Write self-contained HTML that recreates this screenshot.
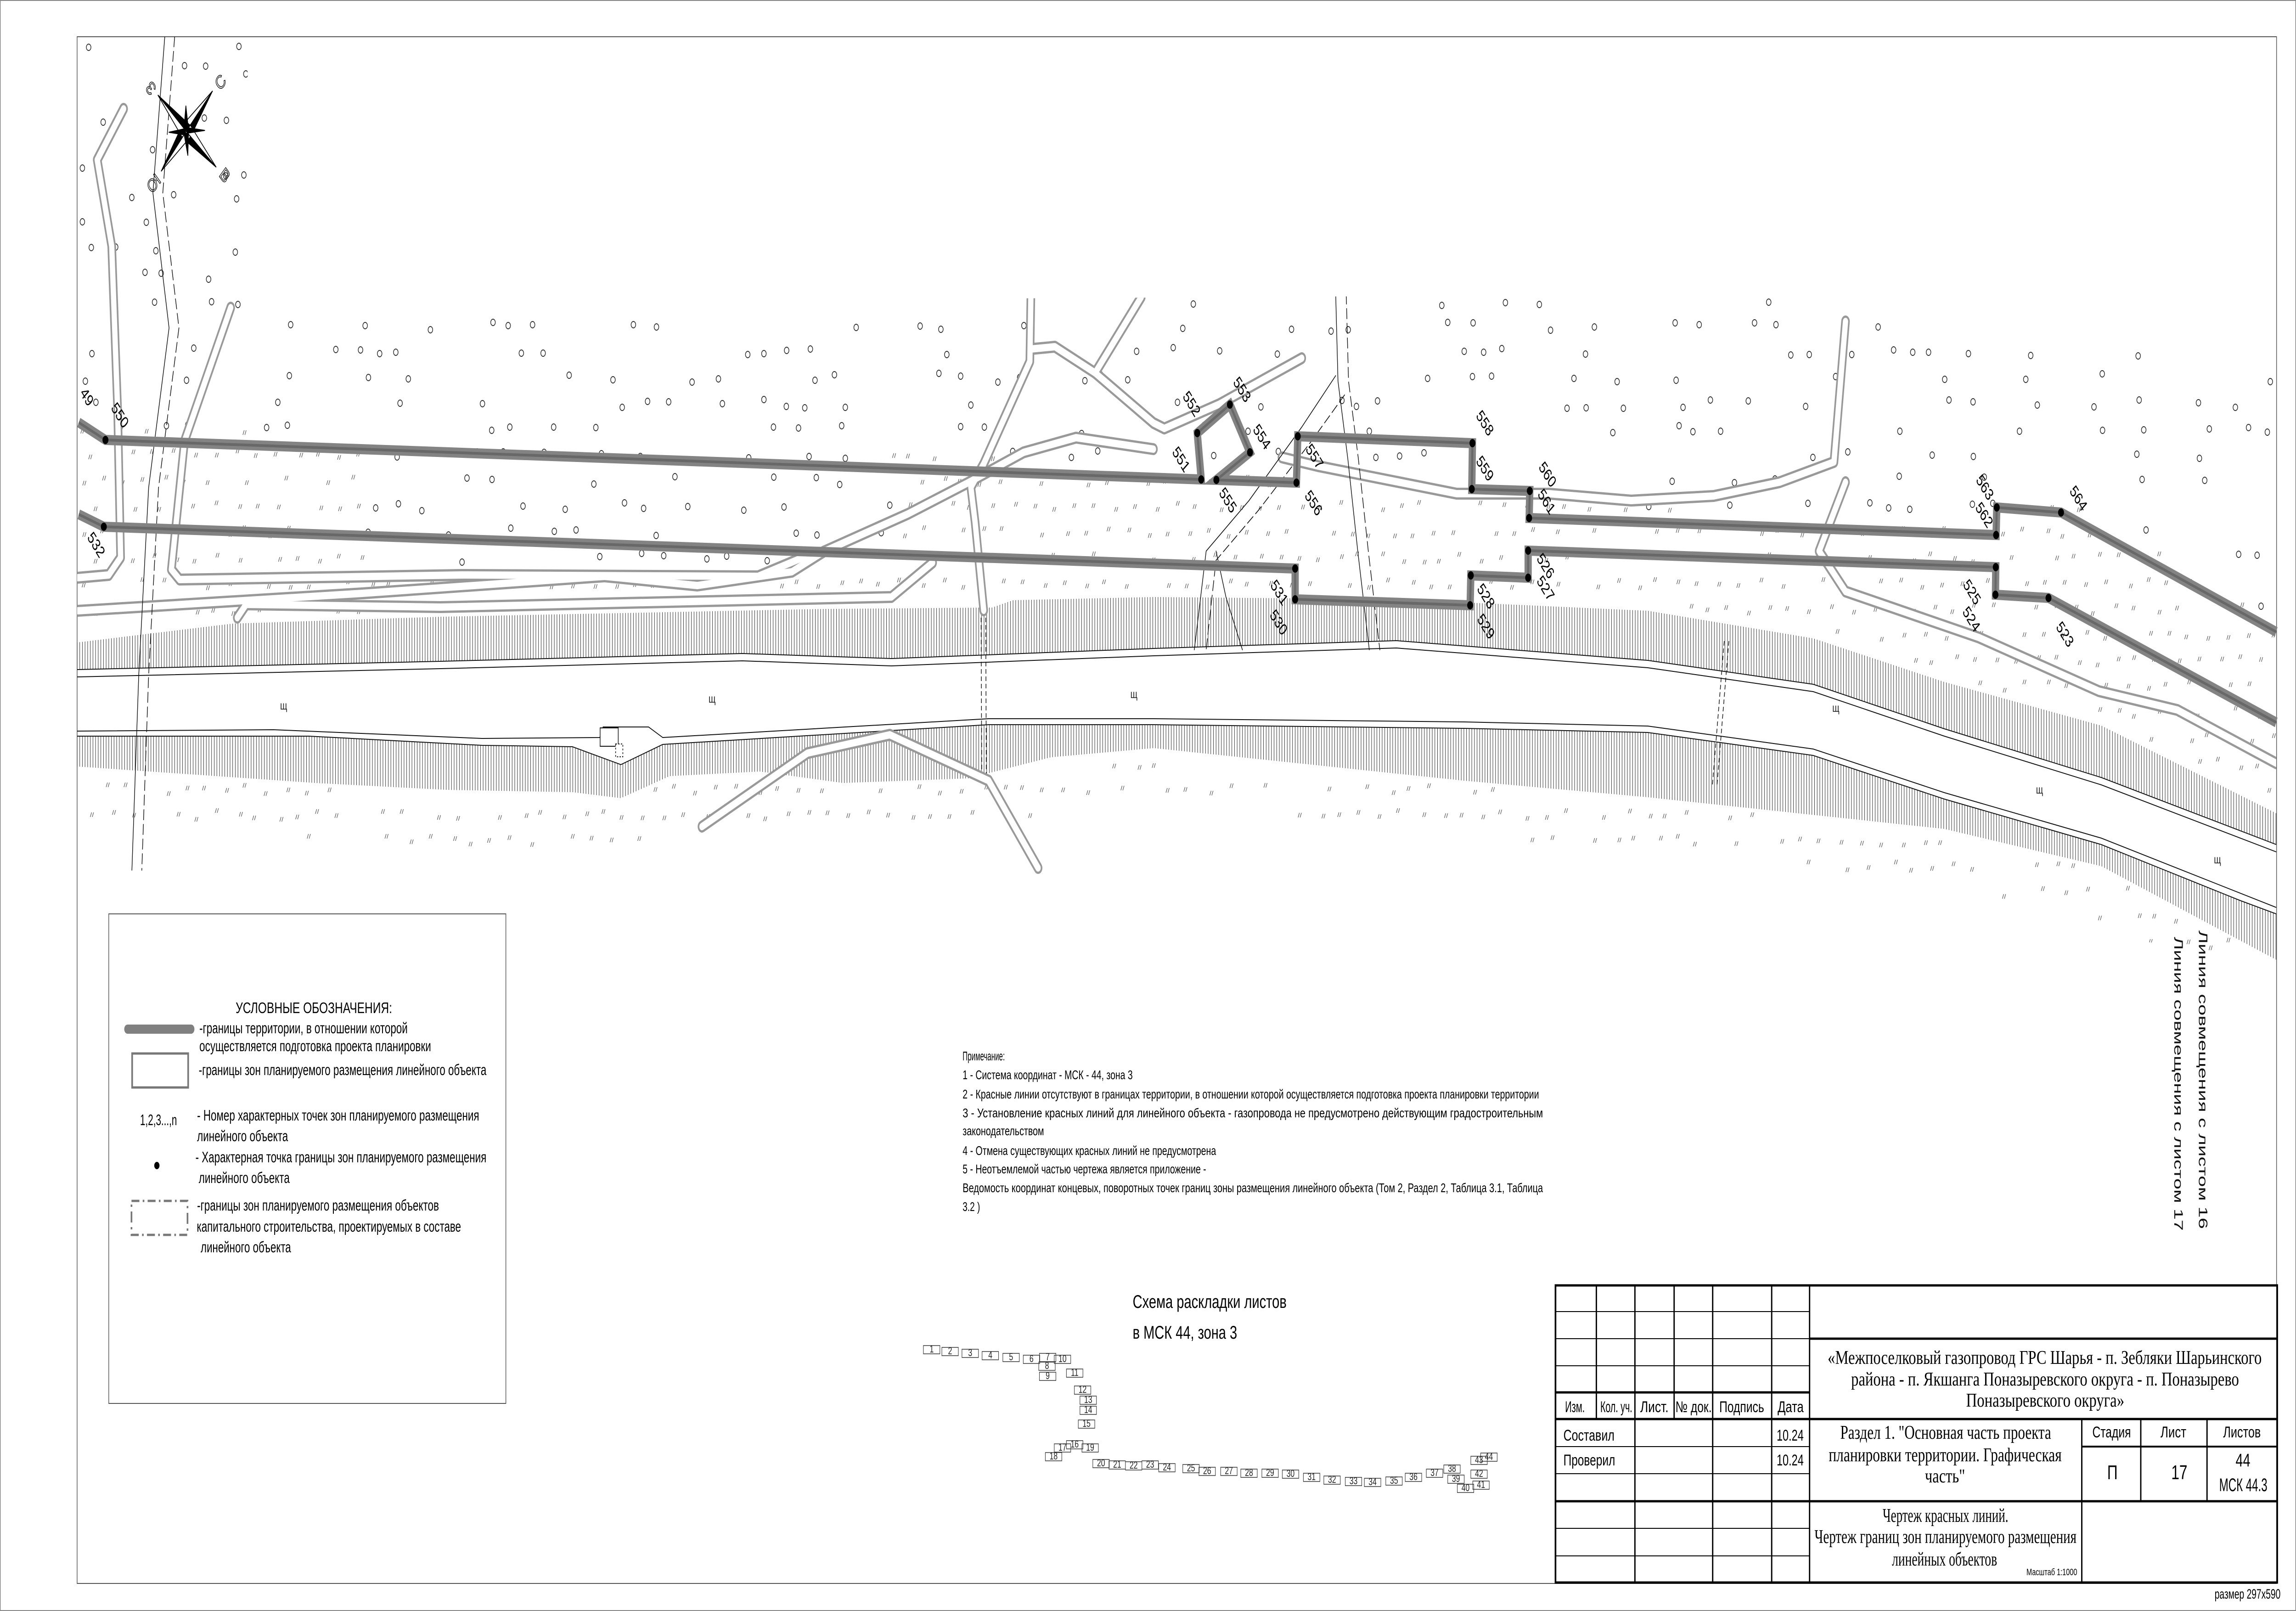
<!DOCTYPE html>
<html><head><meta charset="utf-8"><style>
html,body{margin:0;padding:0;background:#fff;width:100%;height:100%;overflow:hidden}
svg{display:block;position:absolute;left:0;top:0;width:100vw;height:100vh}
.s{font-family:"Liberation Sans",sans-serif}
.r{font-family:"Liberation Serif",serif}
</style></head><body>
<svg id="sv" viewBox="0 0 6967 3508" preserveAspectRatio="none" xmlns="http://www.w3.org/2000/svg">
<defs>
<pattern id="hv" width="8" height="40" patternUnits="userSpaceOnUse"><line x1="2" y1="0" x2="2" y2="40" stroke="#222" stroke-width="1.3"/></pattern>
<clipPath id="mc"><polygon points="234,80 750,80 760,662 3000,650 5400,640 6907,765 6907,2090 6000,2000 3000,1905 234,1895"/></clipPath>
</defs>
<rect x="1" y="1" width="6965" height="3506" fill="#fff" stroke="#888" stroke-width="2"/>
<rect x="234" y="80" width="6674" height="3368" fill="none" stroke="#555" stroke-width="2"/>

<g clip-path="url(#mc)">
 <g id="marks"></g>
 <polygon fill="url(#hv)" points="234,1399 705,1358 1337,1343 2500,1326 3010,1323 3074,1307 3501,1300 4237,1305 5000,1330 5502,1390 5900,1485 6376,1580 6907,1771 6907,1839 6376,1693 5900,1587 5502,1490 5000,1438 4237,1395 3501,1412 2705,1434 2253,1423 1337,1440 234,1458"/>
 <polyline fill="none" stroke="#111" stroke-width="2" points="234,1458 1337,1440 2253,1423 2705,1434 3501,1412 4237,1395 5000,1438 5502,1490 5900,1587 6376,1693 6907,1839"/>
 <polyline fill="none" stroke="#111" stroke-width="2" points="234,1474 1337,1456 2253,1439 2705,1450 3501,1428 4237,1411 5000,1454 5502,1506 5900,1603 6376,1709 6907,1855"/>
 <polygon fill="url(#hv)" points="234,1603 937,1603 1463,1623 1737,1626 1884,1665 2011,1621 3000,1578 3501,1578 4443,1586 5000,1595 5502,1645 5900,1740 6376,1839 6798,1961 6907,1990 6907,2090 6376,1886 5900,1805 5000,1736 4443,1700 3501,1629 3189,1649 2937,1695 2558,1705 2305,1680 2032,1690 1884,1738 1737,1725 1358,1720 958,1705 234,1669"/>
 <polyline fill="none" stroke="#111" stroke-width="2" points="234,1603 937,1603 1463,1623 1737,1626 1884,1665 2011,1621 3000,1578 3501,1578 4443,1586 5000,1595 5502,1645 5900,1740 6376,1839 6798,1961 6907,1990"/>
 <polyline fill="none" stroke="#111" stroke-width="2" points="234,1592 830,1589 1463,1608 1820,1606 1830,1583 1968,1583 2011,1606 3000,1565 3501,1565 4443,1572 5000,1581 5502,1631 5900,1726 6376,1825 6907,1976"/>
 <rect x="1821" y="1585" width="55" height="40" fill="#fff" stroke="#111" stroke-width="2"/>
 <rect x="1868" y="1620" width="22" height="28" fill="#fff" stroke="#111" stroke-width="2" stroke-dasharray="4 4"/>
 <g stroke="#111" stroke-width="2" stroke-dasharray="10 6"><line x1="2977" y1="1345" x2="2979" y2="1690"/><line x1="2991" y1="1345" x2="2993" y2="1690"/><line x1="5232" y1="1396" x2="5196" y2="1711"/><line x1="5246" y1="1396" x2="5210" y2="1711"/></g>
 <g fill="none" stroke-linejoin="round" stroke-linecap="round">
  <g stroke="#999" stroke-width="26">
   <polyline points="375,237 295,348 339,536 357,893 366,1214 330,1252 236,1258"/>
   <polyline points="700,670 560,960 520,1240 545,1262 1400,1252 2300,1255 2450,1210"/>
   <polyline points="720,1345 747,1316 1337,1322 2705,1300 2830,1225"/>
   <polyline points="236,1330 1100,1292 1835,1255 2116,1275 2403,1245 2500,1201 2755,1119 2946,1048 3106,985 3265,953 3500,978"/>
   <polyline points="3128,650 3125,787 2985,1010 2946,1061 2959,1138 2985,1329"/>
   <polyline points="3128,760 3201,755 3323,812 3500,921 3533,933 3700,880 3950,780"/>
   <polyline points="3323,812 3463,647"/>
   <polyline points="3890,996 4000,1015 4420,1075 4700,1075 4950,1090 5200,1080 5400,1050 5565,1006 5600,700"/>
   <polyline points="5600,1050 5520,1200 5600,1288 6004,1388 6369,1505 6607,1546 6907,1662"/>
   <polyline points="2130,1800 2450,1640 2700,1600 3000,1700 3150,1890"/>
  </g>
  <g stroke="#fff" stroke-width="16">
   <polyline points="375,237 295,348 339,536 357,893 366,1214 330,1252 236,1258"/>
   <polyline points="700,670 560,960 520,1240 545,1262 1400,1252 2300,1255 2450,1210"/>
   <polyline points="720,1345 747,1316 1337,1322 2705,1300 2830,1225"/>
   <polyline points="236,1330 1100,1292 1835,1255 2116,1275 2403,1245 2500,1201 2755,1119 2946,1048 3106,985 3265,953 3500,978"/>
   <polyline points="3128,650 3125,787 2985,1010 2946,1061 2959,1138 2985,1329"/>
   <polyline points="3128,760 3201,755 3323,812 3500,921 3533,933 3700,880 3950,780"/>
   <polyline points="3323,812 3463,647"/>
   <polyline points="3890,996 4000,1015 4420,1075 4700,1075 4950,1090 5200,1080 5400,1050 5565,1006 5600,700"/>
   <polyline points="5600,1050 5520,1200 5600,1288 6004,1388 6369,1505 6607,1546 6907,1662"/>
   <polyline points="2130,1800 2450,1640 2700,1600 3000,1700 3150,1890"/>
  </g>
  <g stroke="#111" stroke-width="2">
   <polyline points="500,80 464,420 513,714 451,1062 421,1470 400,1900"/>
   <polyline stroke-dasharray="22 10" points="530,80 494,420 543,714 481,1062 451,1470 430,1900"/>
   <polyline points="4053,640 4060,830 4090,1000 4120,1200 4155,1415"/>
   <polyline stroke-dasharray="22 10" points="4085,640 4092,830 4122,1000 4152,1200 4187,1415"/>
   <polyline points="4053,818 3950,930 3790,1090 3660,1200 3624,1415"/>
   <polyline stroke-dasharray="22 10" points="4080,860 3980,960 3820,1110 3690,1220 3660,1415"/>
   <polyline points="3690,1200 3720,1300 3770,1415"/>
  </g>
 </g>
 <g class="s" font-size="26" fill="#222"><text x="850" y="1545">щ</text><text x="2150" y="1530">щ</text><text x="3430" y="1520">щ</text><text x="5560" y="1550">щ</text><text x="6178" y="1728">щ</text><text x="6718" y="1880">щ</text></g>
</g>

<g fill="none" stroke-linejoin="miter">
 <polyline stroke="#838383" stroke-width="22" points="239,920 320,958 3645,1044 3633,943 3732,881 3793,985 3691,1045 3934,1051 3938,950 4468,965 4466,1065 4642,1069 4640,1128 6057,1165 6059,1105 6254,1116 6907,1376"/>
 <polyline stroke="#686868" stroke-width="6" points="239,920 320,958 3645,1044 3633,943 3732,881 3793,985 3691,1045 3934,1051 3938,950 4468,965 4466,1065 4642,1069 4640,1128 6057,1165 6059,1105 6254,1116 6907,1376"/>
 <polyline stroke="#838383" stroke-width="22" points="239,1120 315,1147 3930,1238 3930,1305 4461,1318 4463,1253 4637,1258 4637,1199 6056,1235 6055,1295 6216,1302 6907,1573"/>
 <polyline stroke="#686868" stroke-width="6" points="239,1120 315,1147 3930,1238 3930,1305 4461,1318 4463,1253 4637,1258 4637,1199 6056,1235 6055,1295 6216,1302 6907,1573"/>
</g>
<g fill="#000">
 <circle cx="320" cy="958" r="9"/><circle cx="3645" cy="1044" r="9"/><circle cx="3633" cy="943" r="9"/><circle cx="3732" cy="881" r="9"/><circle cx="3793" cy="985" r="9"/><circle cx="3691" cy="1045" r="9"/><circle cx="3934" cy="1051" r="9"/><circle cx="3938" cy="950" r="9"/><circle cx="4468" cy="965" r="9"/><circle cx="4466" cy="1065" r="9"/><circle cx="4642" cy="1069" r="9"/><circle cx="4640" cy="1128" r="9"/><circle cx="6057" cy="1165" r="9"/><circle cx="6059" cy="1105" r="9"/><circle cx="6254" cy="1116" r="9"/>
 <circle cx="315" cy="1147" r="9"/><circle cx="3930" cy="1238" r="9"/><circle cx="3930" cy="1305" r="9"/><circle cx="4461" cy="1318" r="9"/><circle cx="4463" cy="1253" r="9"/><circle cx="4637" cy="1258" r="9"/><circle cx="4637" cy="1199" r="9"/><circle cx="6056" cy="1235" r="9"/><circle cx="6055" cy="1295" r="9"/><circle cx="6216" cy="1302" r="9"/>
</g>
<g class="s" font-size="36" fill="#000" text-anchor="middle" dominant-baseline="middle">
 <text x="262" y="866" transform="rotate(50 262 866)">49</text>
 <text x="362" y="906" transform="rotate(50 362 906)">550</text>
 <text x="290" y="1188" transform="rotate(50 290 1188)">532</text>
 <text x="3614" y="881" transform="rotate(50 3614 881)">552</text>
 <text x="3767" y="850" transform="rotate(50 3767 850)">553</text>
 <text x="3827" y="953" transform="rotate(50 3827 953)">554</text>
 <text x="3582" y="1002" transform="rotate(50 3582 1002)">551</text>
 <text x="3724" y="1091" transform="rotate(50 3724 1091)">555</text>
 <text x="3984" y="1097" transform="rotate(50 3984 1097)">556</text>
 <text x="3987" y="996" transform="rotate(50 3987 996)">557</text>
 <text x="4504" y="923" transform="rotate(50 4504 923)">558</text>
 <text x="4504" y="1022" transform="rotate(50 4504 1022)">559</text>
 <text x="4694" y="1035" transform="rotate(50 4694 1035)">560</text>
 <text x="4691" y="1094" transform="rotate(50 4691 1094)">561</text>
 <text x="3880" y="1292" transform="rotate(50 3880 1292)">531</text>
 <text x="3878" y="1357" transform="rotate(50 3878 1357)">530</text>
 <text x="4507" y="1366" transform="rotate(50 4507 1366)">529</text>
 <text x="4507" y="1300" transform="rotate(50 4507 1300)">528</text>
 <text x="4688" y="1283" transform="rotate(50 4688 1283)">527</text>
 <text x="4688" y="1234" transform="rotate(50 4688 1234)">526</text>
 <text x="6021" y="1063" transform="rotate(50 6021 1063)">563</text>
 <text x="6019" y="1123" transform="rotate(50 6019 1123)">562</text>
 <text x="6305" y="1087" transform="rotate(50 6305 1087)">564</text>
 <text x="5982" y="1291" transform="rotate(50 5982 1291)">525</text>
 <text x="5980" y="1350" transform="rotate(50 5980 1350)">524</text>
 <text x="6264" y="1383" transform="rotate(50 6264 1383)">523</text>
</g>

<g stroke="#000" stroke-width="2" stroke-linejoin="miter">
 <polygon fill="#000" points="565,286 645,198 578,298"/><polygon fill="#fff" points="565,286 645,198 552,274"/>
 <polygon fill="#000" points="565,286 656,364 553,300"/><polygon fill="#fff" points="565,286 656,364 577,272"/>
 <polygon fill="#000" points="565,286 489,373 552,274"/><polygon fill="#fff" points="565,286 489,373 578,298"/>
 <polygon fill="#000" points="565,286 479,207 577,273"/><polygon fill="#fff" points="565,286 479,207 553,299"/>
 <polygon fill="#000" points="564,230 572,282 558,282"/><polygon fill="#000" points="622,284 568,290 568,278"/><polygon fill="#000" points="570,339 558,290 572,290"/><polygon fill="#000" points="512,288 562,280 562,294"/>
</g>
<g class="s" font-size="40" fill="none" stroke="#000" stroke-width="1.5" text-anchor="middle" dominant-baseline="middle">
 <text x="671" y="181" transform="rotate(-45 671 181)">С</text>
 <text x="680" y="384" transform="rotate(45 680 384)">В</text>
 <text x="464" y="397" transform="rotate(135 464 397)">Ю</text>
 <text x="460" y="190" transform="rotate(-135 460 190)">З</text>
</g>

<g class="s" font-size="38" fill="#111">
 <text x="6672" y="2026" transform="rotate(90 6672 2026)" textLength="650" lengthAdjust="spacingAndGlyphs">Линия совмещения с листом 16</text>
 <text x="6598" y="2040" transform="rotate(90 6598 2040)" textLength="640" lengthAdjust="spacingAndGlyphs">Линия совмещения с листом 17</text>
</g>

<rect x="330" y="1990" width="1205" height="1066" fill="#fff" stroke="#555" stroke-width="2"/>
<line x1="387" y1="2241" x2="580" y2="2241" stroke="#808080" stroke-width="20" stroke-linecap="round"/>
<rect x="401" y="2294" width="170" height="74" fill="none" stroke="#777" stroke-width="5"/>
<circle cx="476" cy="2538" r="8" fill="#000"/>
<rect x="399" y="2615" width="170" height="74" fill="none" stroke="#777" stroke-width="5" stroke-dasharray="24 10 5 10"/>
<g class="s" font-size="33" fill="#000">
 <text x="715" y="2206" textLength="475" lengthAdjust="spacingAndGlyphs">УСЛОВНЫЕ ОБОЗНАЧЕНИЯ:</text>
 <text x="605" y="2250" textLength="632" lengthAdjust="spacingAndGlyphs">-границы территории, в отношении которой</text>
 <text x="605" y="2289" textLength="703" lengthAdjust="spacingAndGlyphs">осуществляется подготовка проекта планировки</text>
 <text x="603" y="2341" textLength="873" lengthAdjust="spacingAndGlyphs">-границы зон планируемого размещения линейного объекта</text>
 <text x="425" y="2450" textLength="112" lengthAdjust="spacingAndGlyphs">1,2,3...,n</text>
 <text x="598" y="2440" textLength="856" lengthAdjust="spacingAndGlyphs">- Номер характерных точек зон планируемого размещения</text>
 <text x="598" y="2485" textLength="276" lengthAdjust="spacingAndGlyphs">линейного объекта</text>
 <text x="593" y="2531" textLength="883" lengthAdjust="spacingAndGlyphs">- Характерная точка границы зон планируемого размещения</text>
 <text x="603" y="2576" textLength="276" lengthAdjust="spacingAndGlyphs">линейного объекта</text>
 <text x="598" y="2636" textLength="734" lengthAdjust="spacingAndGlyphs">-границы зон планируемого размещения объектов</text>
 <text x="597" y="2682" textLength="802" lengthAdjust="spacingAndGlyphs">капитального строительства, проектируемых в составе</text>
 <text x="609" y="2727" textLength="274" lengthAdjust="spacingAndGlyphs">линейного объекта</text>
</g>

<g class="s" font-size="28" fill="#000">
 <text x="2921" y="2309" textLength="128" lengthAdjust="spacingAndGlyphs">Примечание:</text>
 <text x="2921" y="2350" textLength="516" lengthAdjust="spacingAndGlyphs">1 - Система координат - МСК - 44, зона 3</text>
 <text x="2921" y="2392" textLength="1749" lengthAdjust="spacingAndGlyphs">2 - Красные линии отсутствуют в границах территории, в отношении которой осуществляется подготовка проекта планировки территории</text>
 <text x="2921" y="2433" textLength="1761" lengthAdjust="spacingAndGlyphs">3 - Установление красных линий для линейного объекта - газопровода не предусмотрено действующим градостроительным</text>
 <text x="2921" y="2472" textLength="247" lengthAdjust="spacingAndGlyphs">законодательством</text>
 <text x="2921" y="2515" textLength="769" lengthAdjust="spacingAndGlyphs">4 - Отмена существующих красных линий не предусмотрена</text>
 <text x="2921" y="2555" textLength="739" lengthAdjust="spacingAndGlyphs">5 - Неотъемлемой частью чертежа является приложение -</text>
 <text x="2921" y="2596" textLength="1761" lengthAdjust="spacingAndGlyphs">Ведомость координат концевых, поворотных точек границ зоны размещения линейного объекта (Том 2, Раздел 2, Таблица 3.1, Таблица</text>
 <text x="2921" y="2637" textLength="53" lengthAdjust="spacingAndGlyphs">3.2 )</text>
</g>

<g class="s" font-size="40" fill="#000">
 <text x="3437" y="2848" textLength="467" lengthAdjust="spacingAndGlyphs">Схема раскладки листов</text>
 <text x="3437" y="2915" textLength="317" lengthAdjust="spacingAndGlyphs">в МСК 44, зона 3</text>
</g>
<g id="sheets" fill="none" stroke="#333" stroke-width="1.5"></g>
<g class="s" font-size="22" fill="#222" text-anchor="middle" dominant-baseline="middle">
<text x="2827" y="2939">1</text><text x="2883" y="2943">2</text><text x="2944" y="2947">3</text><text x="3005" y="2952">4</text><text x="3068" y="2956">5</text><text x="3130" y="2960">6</text><text x="3179" y="2956">7</text><text x="3177" y="2975">8</text><text x="3179" y="2997">9</text><text x="3224" y="2960">10</text><text x="3261" y="2990">11</text><text x="3285" y="3027">12</text><text x="3302" y="3049">13</text><text x="3302" y="3071">14</text><text x="3297" y="3101">15</text><text x="3261" y="3146">16</text><text x="3224" y="3153">17</text><text x="3197" y="3172">18</text><text x="3308" y="3153">19</text><text x="3341" y="3187">20</text><text x="3390" y="3190">21</text><text x="3440" y="3192">22</text><text x="3490" y="3190">23</text><text x="3541" y="3196">24</text><text x="3614" y="3198">25</text><text x="3663" y="3204">26</text><text x="3729" y="3204">27</text><text x="3790" y="3208">28</text><text x="3854" y="3208">29</text><text x="3916" y="3210">30</text><text x="3980" y="3217">31</text><text x="4042" y="3223">32</text><text x="4107" y="3226">33</text><text x="4165" y="3228">34</text><text x="4230" y="3225">35</text><text x="4289" y="3217">36</text><text x="4353" y="3208">37</text><text x="4406" y="3199">38</text><text x="4418" y="3221">39</text><text x="4447" y="3241">40</text><text x="4494" y="3234">41</text><text x="4488" y="3210">42</text><text x="4488" y="3180">43</text><text x="4518" y="3173">44</text>
</g>

<g stroke="#000" fill="none">
 <rect x="4720" y="2799" width="2190" height="647" stroke-width="5"/>
 <g stroke-width="4">
  <line x1="4844" y1="2799" x2="4844" y2="3090"/><line x1="4961" y1="2799" x2="4961" y2="3446"/><line x1="5080" y1="2799" x2="5080" y2="3090"/><line x1="5197" y1="2799" x2="5197" y2="3446"/><line x1="5376" y1="2799" x2="5376" y2="3446"/><line x1="5491" y1="2799" x2="5491" y2="3446"/>
  <line x1="6317" y1="3090" x2="6317" y2="3446"/><line x1="6496" y1="3090" x2="6496" y2="3269"/><line x1="6697" y1="3090" x2="6697" y2="3269"/>
 </g>
 <g stroke-width="2">
  <line x1="4720" y1="2856" x2="5491" y2="2856"/><line x1="4720" y1="2915" x2="5491" y2="2915"/><line x1="4720" y1="2974" x2="5491" y2="2974"/><line x1="4720" y1="3150" x2="5491" y2="3150"/><line x1="4720" y1="3209" x2="5491" y2="3209"/><line x1="4720" y1="3328" x2="5491" y2="3328"/><line x1="4720" y1="3388" x2="5491" y2="3388"/>
  <line x1="6317" y1="3150" x2="6910" y2="3150" stroke-width="4"/>
 </g>
 <g stroke-width="5">
  <line x1="4720" y1="3032" x2="5491" y2="3032"/><line x1="4720" y1="3090" x2="6910" y2="3090"/><line x1="4720" y1="3269" x2="6910" y2="3269"/><line x1="5491" y1="2915" x2="6910" y2="2915"/>
 </g>
</g>
<g class="s" font-size="34" fill="#000">
 <text x="4749" y="3075" textLength="60" lengthAdjust="spacingAndGlyphs">Изм.</text>
 <text x="4856" y="3075" textLength="97" lengthAdjust="spacingAndGlyphs">Кол. уч.</text>
 <text x="4977" y="3075" textLength="86" lengthAdjust="spacingAndGlyphs">Лист.</text>
 <text x="5084" y="3075" textLength="110" lengthAdjust="spacingAndGlyphs">№ док.</text>
 <text x="5217" y="3075" textLength="136" lengthAdjust="spacingAndGlyphs">Подпись</text>
 <text x="5394" y="3075" textLength="79" lengthAdjust="spacingAndGlyphs">Дата</text>
 <text x="4744" y="3137" textLength="155" lengthAdjust="spacingAndGlyphs">Составил</text>
 <text x="5391" y="3137" textLength="82" lengthAdjust="spacingAndGlyphs">10.24</text>
 <text x="4744" y="3191" textLength="157" lengthAdjust="spacingAndGlyphs">Проверил</text>
 <text x="5391" y="3191" textLength="82" lengthAdjust="spacingAndGlyphs">10.24</text>
 <text x="6349" y="3130" textLength="117" lengthAdjust="spacingAndGlyphs">Стадия</text>
 <text x="6556" y="3130" textLength="78" lengthAdjust="spacingAndGlyphs">Лист</text>
 <text x="6746" y="3130" textLength="114" lengthAdjust="spacingAndGlyphs">Листов</text>
 <text x="6410" y="3221" font-size="44" text-anchor="middle">П</text>
 <text x="6613" y="3221" font-size="44" text-anchor="middle">17</text>
 <text x="6806" y="3193" font-size="40" text-anchor="middle">44</text>
 <text x="6734" y="3247" font-size="40" textLength="146" lengthAdjust="spacingAndGlyphs">МСК 44.3</text>
 <text x="6149" y="3430" font-size="20" textLength="154" lengthAdjust="spacingAndGlyphs">Масштаб 1:1000</text>
 <text x="6720" y="3481" font-size="30" textLength="200" lengthAdjust="spacingAndGlyphs">размер 297х590</text>
</g>
<g class="r" font-size="42" fill="#000">
 <text x="5546" y="2970" textLength="1317" lengthAdjust="spacingAndGlyphs">«Межпоселковый газопровод ГРС Шарья - п. Зебляки Шарьинского</text>
 <text x="5617" y="3017" textLength="1177" lengthAdjust="spacingAndGlyphs">района - п. Якшанга Поназыревского округа - п. Поназырево</text>
 <text x="5966" y="3063" textLength="480" lengthAdjust="spacingAndGlyphs">Поназыревского округа»</text>
 <text x="5584" y="3133" textLength="640" lengthAdjust="spacingAndGlyphs">Раздел 1. "Основная часть проекта</text>
 <text x="5549" y="3182" textLength="707" lengthAdjust="spacingAndGlyphs">планировки территории. Графическая</text>
 <text x="5841" y="3228" textLength="122" lengthAdjust="spacingAndGlyphs">часть"</text>
 <text x="5713" y="3314" textLength="381" lengthAdjust="spacingAndGlyphs">Чертеж красных линий.</text>
 <text x="5506" y="3360" textLength="795" lengthAdjust="spacingAndGlyphs">Чертеж  границ  зон  планируемого  размещения</text>
 <text x="5741" y="3409" textLength="319" lengthAdjust="spacingAndGlyphs">линейных объектов</text>
</g>
</svg>
<script>
(function(){
function itp(p,x){if(x<=p[0][0])return p[0][1];for(var i=1;i<p.length;i++){if(x<=p[i][0]){var a=p[i-1],b=p[i];return a[1]+(b[1]-a[1])*(x-a[0])/(b[0]-a[0]);}}return p[p.length-1][1];}
var upTop=[[234,1399],[705,1358],[1337,1343],[2500,1326],[3501,1300],[4237,1305],[5000,1330],[5502,1390],[5900,1485],[6376,1580],[6907,1771]];
var loBot=[[234,1669],[958,1705],[1358,1720],[1884,1738],[2032,1690],[2558,1705],[2937,1695],[3189,1649],[3501,1629],[4443,1700],[5000,1736],[5900,1805],[6376,1886],[6907,2090]];
var pipeU=[[239,920],[320,958],[3645,1044],[4640,1128],[6057,1165],[6254,1116],[6907,1376]];
var topB=[[234,80],[750,80],[760,662],[3000,650],[5400,640],[6907,765]];
var s=7;function rnd(){s=(s*16807)%2147483647;return s/2147483647;}
var c="",g="";
for(var y=95;y<2090;y+=56){var off=((y/56)|0)%2?31:0;for(var x=250+off;x<6900;x+=62){
 var jx=x+(rnd()-0.5)*24,jy=y+(rnd()-0.5)*20;
 if(jy<itp(topB,jx)+12)continue;
 if(jy>itp(loBot,jx)+120)continue;
 if(jy>itp(upTop,jx)-14&&jy<itp(loBot,jx)+14)continue;
 if(jy>1895+(jx/6907)*190)continue;
 var pu=itp(pipeU,jx);
 var circ=(jy<pu-30)||(jx>1100&&jx<2700&&jy<1235);
 if(circ){if(rnd()<0.3)c+="M"+(jx+7).toFixed(0)+","+jy.toFixed(0)+"a7,7 0 1,0 -14,0a7,7 0 1,0 14,0";}
 else{if(rnd()<0.85){var X=jx|0,Y=jy|0;g+="M"+X+","+(Y+5)+"l4,-10M"+(X+6)+","+(Y+5)+"l4,-10";}}
}}
var ns="http://www.w3.org/2000/svg",m=document.getElementById("marks");
var p1=document.createElementNS(ns,"path");p1.setAttribute("d",c);p1.setAttribute("fill","none");p1.setAttribute("stroke","#333");p1.setAttribute("stroke-width","2");m.appendChild(p1);
var p2=document.createElementNS(ns,"path");p2.setAttribute("d",g);p2.setAttribute("fill","none");p2.setAttribute("stroke","#555");p2.setAttribute("stroke-width","1.6");m.appendChild(p2);
var pts=[[2827,2939],[2883,2943],[2944,2947],[3005,2952],[3068,2956],[3130,2960],[3179,2956],[3177,2975],[3179,2997],[3224,2960],[3261,2990],[3285,3027],[3302,3049],[3302,3071],[3297,3101],[3261,3146],[3224,3153],[3197,3172],[3308,3153],[3341,3187],[3390,3190],[3440,3192],[3490,3190],[3541,3196],[3614,3198],[3663,3204],[3729,3204],[3790,3208],[3854,3208],[3916,3210],[3980,3217],[4042,3223],[4107,3226],[4165,3228],[4230,3225],[4289,3217],[4353,3208],[4406,3199],[4418,3221],[4447,3241],[4494,3234],[4488,3210],[4488,3180],[4518,3173]];
var sh=document.getElementById("sheets"),d="";
pts.forEach(function(q){d+="M"+(q[0]-25)+","+(q[1]-9)+"h50v18h-50z";});
var p3=document.createElementNS(ns,"path");p3.setAttribute("d",d);sh.appendChild(p3);
})();
</script>
</body></html>
